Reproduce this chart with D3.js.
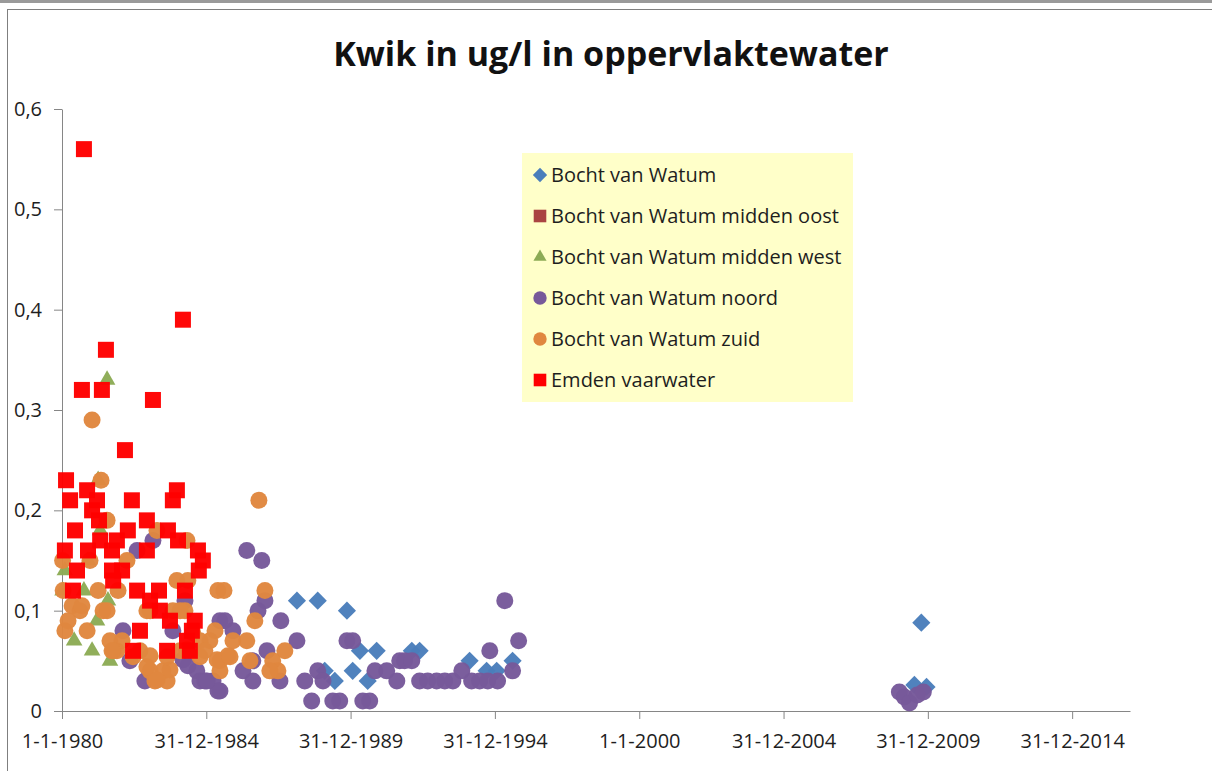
<!DOCTYPE html>
<html>
<head>
<meta charset="utf-8">
<script src="https://cdn.jsdelivr.net/npm/d3@7"></script>
<style>
  body { margin: 0; background: #fff; }
  svg { display: block; font-family: 'Open Sans', sans-serif; }
  .axis path, .axis line { stroke: #868686; }
  .axis text { fill: #1e1e1e; font-size: 20px; font-family: 'Open Sans', sans-serif; }
</style>
</head>
<body>
<div class="chart-container"></div>
<script>
const width = 1212;
const height = 771;

// [decimal year, ug/l]
const watum = [
  [1988.14, 0.11], [1988.86, 0.11], [1989.87, 0.10], [1990.32, 0.06], [1990.90, 0.06],
  [1990.07, 0.04], [1990.59, 0.03], [1989.10, 0.04], [1989.45, 0.03], [1992.12, 0.06],
  [1992.39, 0.06], [1994.12, 0.05], [1994.71, 0.04], [1995.06, 0.04], [1995.61, 0.05],
  [2009.77, 0.088], [2009.53, 0.026], [2009.95, 0.024]
];
const middenOost = [];
const middenWest = [
  [1980.02, 0.12], [1980.10, 0.14], [1980.42, 0.07], [1981.04, 0.06], [1981.66, 0.05],
  [1981.59, 0.11], [1981.21, 0.09], [1981.32, 0.18], [1981.25, 0.23], [1981.56, 0.33],
  [1980.90, 0.15], [1980.76, 0.12]
];
const noord = [
  [1983.15, 0.17], [1982.60, 0.16], [1984.26, 0.11], [1983.84, 0.08], [1982.11, 0.08],
  [1982.35, 0.05], [1982.87, 0.03], [1984.33, 0.06], [1984.67, 0.04], [1985.23, 0.03],
  [1985.47, 0.09], [1984.36, 0.045], [1984.78, 0.03], [1985.47, 0.02], [1986.40, 0.16],
  [1986.92, 0.15], [1987.03, 0.11], [1986.79, 0.10], [1985.64, 0.09], [1985.92, 0.08],
  [1987.58, 0.09], [1988.14, 0.07], [1987.10, 0.06], [1986.61, 0.05], [1986.27, 0.04],
  [1986.61, 0.03], [1987.55, 0.03], [1984.95, 0.03], [1985.40, 0.02], [1988.41, 0.03],
  [1988.65, 0.01], [1988.86, 0.04], [1989.04, 0.03], [1989.38, 0.01], [1989.62, 0.01],
  [1989.87, 0.07], [1990.07, 0.07], [1990.42, 0.01], [1990.66, 0.01], [1990.84, 0.04],
  [1991.25, 0.04], [1991.60, 0.03], [1991.70, 0.05], [1991.87, 0.05], [1992.12, 0.05],
  [1992.39, 0.03], [1992.67, 0.03], [1992.98, 0.03], [1993.26, 0.03], [1993.54, 0.03],
  [1993.85, 0.04], [1994.19, 0.03], [1994.47, 0.03], [1994.75, 0.03], [1994.82, 0.06],
  [1995.09, 0.03], [1995.34, 0.11], [1995.61, 0.04], [1995.82, 0.07],
  [1984.19, 0.051], [1985.02, 0.03],
  [2009.01, 0.019], [2009.18, 0.014], [2009.36, 0.008], [2009.63, 0.016], [2009.84, 0.019]
];
const zuid = [
  [1981.04, 0.29], [1981.35, 0.23], [1981.56, 0.19], [1980.02, 0.15], [1980.04, 0.12],
  [1980.62, 0.10], [1980.10, 0.08], [1980.21, 0.09], [1980.87, 0.08], [1981.42, 0.10],
  [1981.25, 0.12], [1980.97, 0.15], [1981.94, 0.12], [1981.66, 0.07], [1981.90, 0.06],
  [1982.08, 0.07], [1981.77, 0.06], [1982.70, 0.06], [1983.05, 0.055], [1983.22, 0.03],
  [1983.64, 0.03], [1983.50, 0.04], [1982.94, 0.10], [1983.84, 0.10], [1983.98, 0.13],
  [1984.36, 0.13], [1984.33, 0.17], [1983.29, 0.18], [1985.40, 0.12], [1985.30, 0.08],
  [1982.25, 0.15], [1984.26, 0.10], [1984.09, 0.06], [1985.12, 0.07], [1985.92, 0.07],
  [1986.40, 0.07], [1985.47, 0.05], [1984.78, 0.07], [1986.82, 0.21], [1985.61, 0.12],
  [1987.03, 0.12], [1986.68, 0.09], [1987.72, 0.06], [1987.30, 0.05], [1987.48, 0.04],
  [1987.20, 0.04], [1986.51, 0.05], [1985.47, 0.04], [1985.75, 0.055], [1984.95, 0.06],
  [1980.35, 0.105], [1980.69, 0.105], [1983.05, 0.04],
  [1982.46, 0.054], [1982.94, 0.044], [1983.29, 0.031], [1983.74, 0.041], [1983.64, 0.054],
  [1985.37, 0.051], [1985.82, 0.054], [1984.78, 0.054], [1984.33, 0.061], [1984.53, 0.078],
  [1984.09, 0.10], [1983.05, 0.10], [1981.56, 0.10], [1981.73, 0.06]
];
const emden = [
  [1980.76, 0.56], [1984.19, 0.39], [1981.52, 0.36], [1980.69, 0.32], [1981.38, 0.32],
  [1983.15, 0.31], [1982.18, 0.26], [1980.14, 0.23], [1980.87, 0.22], [1980.28, 0.21],
  [1981.21, 0.21], [1982.42, 0.21], [1983.98, 0.22], [1983.84, 0.21], [1981.04, 0.20],
  [1981.28, 0.19], [1980.45, 0.18], [1982.94, 0.19], [1982.28, 0.18], [1983.67, 0.18],
  [1980.10, 0.16], [1980.90, 0.16], [1981.73, 0.16], [1982.94, 0.16], [1981.32, 0.17],
  [1981.90, 0.17], [1984.02, 0.17], [1984.71, 0.16], [1984.88, 0.15], [1980.52, 0.14],
  [1981.73, 0.14], [1982.08, 0.14], [1984.74, 0.14], [1981.77, 0.13], [1980.38, 0.12],
  [1982.60, 0.12], [1983.36, 0.12], [1984.26, 0.12], [1983.05, 0.11], [1983.39, 0.10],
  [1983.74, 0.09], [1984.60, 0.09], [1982.70, 0.08], [1984.50, 0.08], [1984.33, 0.07],
  [1982.46, 0.06], [1983.64, 0.06], [1984.43, 0.06]
];

const seriesNames = [
  'Bocht van Watum', 'Bocht van Watum midden oost', 'Bocht van Watum midden west',
  'Bocht van Watum noord', 'Bocht van Watum zuid', 'Emden vaarwater'
];
const xTickLabels = ['1-1-1980', '31-12-1984', '31-12-1989', '31-12-1994',
  '1-1-2000', '31-12-2004', '31-12-2009', '31-12-2014'];
const yTickValues = [0, 0.1, 0.2, 0.3, 0.4, 0.5, 0.6];
const yTickLabels = ['0', '0,1', '0,2', '0,3', '0,4', '0,5', '0,6'];

const parseTick = d3.utcParse('%d-%m-%Y');

let toDate = (yearFrac) => {
  const yr = Math.floor(yearFrac);
  return new Date(Date.UTC(yr, 0, 1) + (yearFrac - yr) * 365.25 * 864e5);
};

let parseSeries = (rows) => {
  return rows.map((r) => { return { date: toDate(r[0]), value: r[1] }; });
};

const series = [
  { name: seriesNames[0], data: parseSeries(watum), color: '#4a7ebb', shape: 'diamond' },
  { name: seriesNames[1], data: parseSeries(middenOost), color: '#aa4442', shape: 'square' },
  { name: seriesNames[2], data: parseSeries(middenWest), color: '#8cab55', shape: 'triangle' },
  { name: seriesNames[3], data: parseSeries(noord), color: '#77599a', shape: 'circle' },
  { name: seriesNames[4], data: parseSeries(zuid), color: '#e0873f', shape: 'circle' },
  { name: seriesNames[5], data: parseSeries(emden), color: '#ff0000', shape: 'redsquare' }
];

const shapes = {
  diamond: { type: d3.symbolSquare, size: 165, rotate: 45 },
  square: { type: d3.symbolSquare, size: 256, rotate: 0 },
  triangle: { type: d3.symbolTriangle, size: 120, rotate: 0 },
  circle: { type: d3.symbolCircle, size: 227, rotate: 0 },
  redsquare: { type: d3.symbolSquare, size: 256, rotate: 0 }
};

const svg = d3.select('.chart-container').append('svg')
  .attr('width', width)
  .attr('height', height);

// outer frame
svg.append('rect').attr('x', 0).attr('y', 0).attr('width', width).attr('height', 3).attr('fill', '#9a9a9a');
svg.append('line').attr('x1', 7).attr('x2', width).attr('y1', 9.5).attr('y2', 9.5).attr('stroke', '#7f7f7f');
svg.append('line').attr('x1', 7.5).attr('x2', 7.5).attr('y1', 9).attr('y2', height).attr('stroke', '#7f7f7f');

const scaleX = d3.scaleUtc()
  .domain([parseTick('1-1-1980'), parseTick('1-1-2017')])
  .range([62, 1130]);
const scaleY = d3.scaleLinear()
  .domain([0, 0.6])
  .range([711, 109]);

svg.append('text')
  .attr('x', 611)
  .attr('y', 66)
  .attr('text-anchor', 'middle')
  .attr('font-size', 34)
  .attr('font-weight', 'bold')
  .attr('fill', '#111')
  .text('Kwik in ug/l in oppervlaktewater');

const axisY = d3.axisLeft(scaleY)
  .tickValues(yTickValues)
  .tickFormat((d, i) => yTickLabels[i])
  .tickSize(8)
  .tickSizeOuter(0)
  .tickPadding(12);
svg.append('g').attr('class', 'axis').attr('transform', 'translate(62,0)').call(axisY);

const axisX = d3.axisBottom(scaleX)
  .tickValues(xTickLabels.map(parseTick))
  .tickFormat((d, i) => xTickLabels[i])
  .tickSize(8)
  .tickSizeOuter(0)
  .tickPadding(15);
svg.append('g').attr('class', 'axis').attr('transform', 'translate(0,711)').call(axisX);

let symbolPath = (shape, scale) => {
  const s = shapes[shape];
  return d3.symbol().type(s.type).size(s.size * scale)();
};

const marks = svg.append('g');
series.forEach((s) => {
  const sh = shapes[s.shape];
  marks.append('g')
    .selectAll('path')
    .data(s.data)
    .join('path')
    .attr('d', symbolPath(s.shape, 1))
    .attr('transform', (d) => 'translate(' + scaleX(d.date) + ',' + scaleY(d.value) + ') rotate(' + sh.rotate + ')')
    .attr('fill', s.color)
    .attr('fill-opacity', 0.97);
});

// legend
const legend = svg.append('g').attr('transform', 'translate(522,153)');
legend.append('rect')
  .attr('width', 331)
  .attr('height', 249)
  .attr('fill', '#ffffc9');
const items = legend.selectAll('g.item')
  .data(series)
  .join('g')
  .attr('class', 'item')
  .attr('transform', (d, i) => 'translate(0,' + (22 + i * 41) + ')');
items.append('path')
  .attr('d', (d) => symbolPath(d.shape, 0.62))
  .attr('transform', (d) => 'translate(18,0) rotate(' + shapes[d.shape].rotate + ')')
  .attr('fill', (d) => d.color);
items.append('text')
  .attr('x', 29)
  .attr('y', 7)
  .attr('font-size', 20)
  .attr('fill', '#1e1e1e')
  .text((d) => d.name);
</script>
</body>
</html>
